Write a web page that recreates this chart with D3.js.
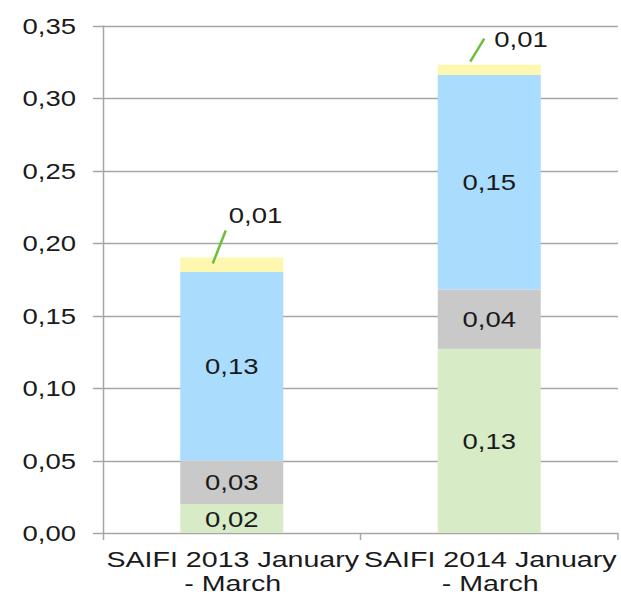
<!DOCTYPE html>
<html>
<head>
<meta charset="utf-8">
<script src="https://cdn.jsdelivr.net/npm/d3@7"></script>
<style>
  body { margin: 0; background: #fff; }
  text { font-family: "Liberation Sans", Arial, sans-serif; fill: #1a1a1a; }
</style>
</head>
<body>
<div id="chart"></div>
<script>
// categories (two lines each)
var categories = ["SAIFI 2013 January - March", "SAIFI 2014 January - March"];
var catLines = [["SAIFI 2013 January", "- March"], ["SAIFI 2014 January", "- March"]];

// series values, bottom to top
var seriesNames = ["s1", "s2", "s3", "s4"];
var green  = [0.020, 0.127];
var grey   = [0.030, 0.041];
var blue   = [0.130, 0.148];
var yellow = [0.010, 0.007];

var yTicks = [0, 0.05, 0.10, 0.15, 0.20, 0.25, 0.30, 0.35];

var colors = ["#d7ebc7", "#c9c9c9", "#aadcfd", "#fdf7b0"];

var w = 621, h = 595;
var margin = {top: 25.5, right: 3, bottom: 62, left: 103};
var sx = 1.25; // text looks horizontally stretched

var svg = d3.select('#chart').append('svg')
  .attr('width', w)
  .attr('height', h);

var x = d3.scaleBand()
  .domain(categories)
  .range([margin.left, w - margin.right])
  .paddingInner(0.6)
  .paddingOuter(0.3);

var band = d3.scaleBand()
  .domain(categories)
  .range([margin.left, w - margin.right]);

var y = d3.scaleLinear()
  .domain([0, 0.35])
  .range([h - margin.bottom, margin.top]);

var fmt = function(v) { return d3.format(".2f")(v).replace(".", ","); };

// build table for stack
var table = categories.map(function(c, i) {
  return {cat: c, s1: green[i], s2: grey[i], s3: blue[i], s4: yellow[i]};
});
var stacked = d3.stack().keys(seriesNames)(table);

// gridlines
svg.append('g').selectAll('line')
  .data(yTicks)
  .enter().append('line')
  .attr('x1', margin.left - 10)
  .attr('x2', w - margin.right)
  .attr('y1', function(d) { return Math.round(y(d)) + 0.5; })
  .attr('y2', function(d) { return Math.round(y(d)) + 0.5; })
  .attr('stroke', '#a6a6a6')
  .attr('stroke-width', 1.5);

// y axis line
svg.append('line')
  .attr('x1', margin.left + 0.5).attr('x2', margin.left + 0.5)
  .attr('y1', y(0.35)).attr('y2', y(0) + 7)
  .attr('stroke', '#a6a6a6').attr('stroke-width', 1.5);

// category ticks
svg.append('g').selectAll('line')
  .data(categories)
  .enter().append('line')
  .attr('x1', function(d) { return band(d) + band.bandwidth(); })
  .attr('x2', function(d) { return band(d) + band.bandwidth(); })
  .attr('y1', y(0))
  .attr('y2', y(0) + 7)
  .attr('stroke', '#a6a6a6').attr('stroke-width', 1.5);

// y tick labels
svg.append('g').selectAll('text')
  .data(yTicks)
  .enter().append('text')
  .attr('transform', function(d) { return 'translate(' + (margin.left - 27) + ',' + (y(d) + 8) + ') scale(' + sx + ',1)'; })
  .attr('text-anchor', 'end')
  .style('font-size', '22px')
  .text(fmt);

// bars
var layers = svg.append('g').selectAll('g')
  .data(stacked)
  .enter().append('g')
  .attr('fill', function(d, i) { return colors[i]; });

layers.selectAll('rect')
  .data(function(d) { return d; })
  .enter().append('rect')
  .attr('x', function(d) { return x(d.data.cat); })
  .attr('width', x.bandwidth())
  .attr('y', function(d) { return y(d[1]); })
  .attr('height', function(d) { return y(d[0]) - y(d[1]); });

// value labels inside segments (first three series)
stacked.slice(0, 3).forEach(function(layer) {
  svg.append('g').selectAll('text')
    .data(layer)
    .enter().append('text')
    .attr('transform', function(d) {
      var cx = x(d.data.cat) + x.bandwidth() / 2;
      var cy = (y(d[0]) + y(d[1])) / 2 + 8;
      return 'translate(' + cx + ',' + cy + ') scale(' + sx + ',1)';
    })
    .attr('text-anchor', 'middle')
    .style('font-size', '22px')
    .text(function(d) { return fmt(d[1] - d[0]); });
});

// callouts for the thin top segment
var callout = [
  {lx: -19, ly: 6, ex: -6, ey: -27, tx: -3, ty: -35},
  {lx: -19, ly: -3, ex: -5, ey: -26, tx: 5, ty: -18}
];
var topLayer = stacked[3];
topLayer.forEach(function(d, i) {
  var cx = x(d.data.cat) + x.bandwidth() / 2;
  var ty = y(d[1]);
  var c = callout[i];
  svg.append('line')
    .attr('x1', cx + c.lx).attr('y1', ty + c.ly)
    .attr('x2', cx + c.ex).attr('y2', ty + c.ey)
    .attr('stroke', '#6cbe3c').attr('stroke-width', 2.5);
  svg.append('text')
    .attr('transform', 'translate(' + (cx + c.tx) + ',' + (ty + c.ty) + ') scale(' + sx + ',1)')
    .style('font-size', '22px')
    .text(fmt(d[1] - d[0]));
});

// x labels
categories.forEach(function(c, i) {
  var cx = band(c) + band.bandwidth() / 2;
  catLines[i].forEach(function(line, j) {
    svg.append('text')
      .attr('transform', 'translate(' + (cx + 1) + ',' + (y(0) + 34 + j * 24) + ') scale(1.3,1)')
      .attr('text-anchor', 'middle')
      .style('font-size', '22px')
      .text(line);
  });
});
</script>
</body>
</html>
